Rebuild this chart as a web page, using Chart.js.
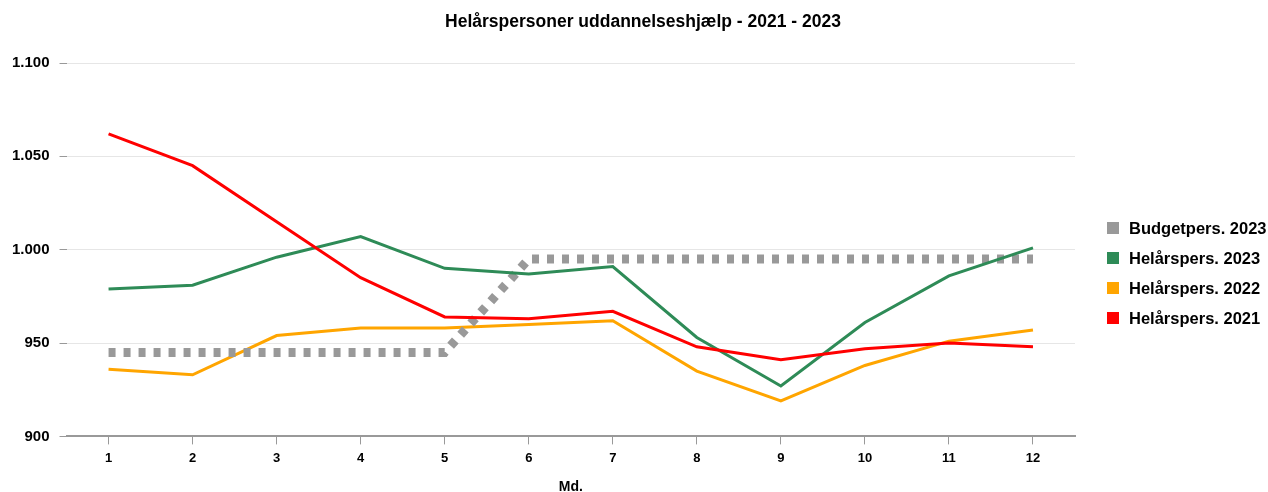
<!DOCTYPE html>
<html>
<head>
<meta charset="utf-8">
<script src="https://cdn.jsdelivr.net/npm/chart.js@4.4.1/dist/chart.umd.min.js"></script>
<style>
html,body{margin:0;padding:0;background:#fff;}
#wrap{width:1268px;height:492px;position:relative;}
</style>
</head>
<body>
<div id="wrap"><canvas id="c"></canvas></div>
<script>
const months = ['1','2','3','4','5','6','7','8','9','10','11','12'];
const budget2023 = [945, 945, 945, 945, 945, 995, 995, 995, 995, 995, 995, 995];
const helaar2023 = [979, 981, 996, 1007, 990, 987, 991, 953, 927, 961, 986, 1001];
const helaar2022 = [936, 933, 954, 958, 958, 960, 962, 935, 919, 938, 951, 957];
const helaar2021 = [1062, 1045, 1015, 985, 964, 963, 967, 948, 941, 947, 950, 948];
const yTicks = [900, 950, 1000, 1050, 1100];
const chartTitle = 'Helårspersoner uddannelseshjælp - 2021 - 2023';
const xTitle = 'Md.';

const FONT = "'Liberation Sans', Arial, sans-serif";
function fmt(v){ return String(v).replace(/\B(?=(\d{3})+(?!\d))/g, '.'); }

const titleLegendPlugin = {
  id: 'titleLegend',
  afterDraw(chart) {
    const ctx = chart.ctx;
    ctx.save();
    ctx.fillStyle = '#000';
    ctx.font = "bold 17.5px " + FONT;
    ctx.textAlign = 'center';
    ctx.textBaseline = 'middle';
    ctx.fillText(chartTitle, 643, 22);
    ctx.font = "bold 16.5px " + FONT;
    ctx.textAlign = 'left';
    chart.data.datasets.forEach((ds, i) => {
      const y = 228 + i * 30;
      ctx.fillStyle = ds.borderColor;
      ctx.fillRect(1107, y - 6, 12, 12);
      ctx.fillStyle = '#000';
      ctx.fillText(ds.label, 1129, y + 1);
    });
    ctx.restore();
  }
};

new Chart(document.getElementById('c'), {
  type: 'line',
  data: {
    labels: months,
    datasets: [
      { label: 'Budgetpers. 2023', data: budget2023, borderColor: '#999999', backgroundColor: '#999999',
        borderWidth: 9, borderDash: [7, 8], borderCapStyle: 'butt', pointRadius: 0, tension: 0, order: 3 },
      { label: 'Helårspers. 2023', data: helaar2023, borderColor: '#2e8b57', backgroundColor: '#2e8b57',
        borderWidth: 3, pointRadius: 0, tension: 0, order: 2 },
      { label: 'Helårspers. 2022', data: helaar2022, borderColor: '#ffa500', backgroundColor: '#ffa500',
        borderWidth: 3, pointRadius: 0, tension: 0, order: 4 },
      { label: 'Helårspers. 2021', data: helaar2021, borderColor: '#ff0000', backgroundColor: '#ff0000',
        borderWidth: 3, pointRadius: 0, tension: 0, order: 1 }
    ]
  },
  plugins: [titleLegendPlugin],
  options: {
    responsive: true,
    maintainAspectRatio: false,
    animation: false,
    devicePixelRatio: 1,
    layout: { padding: { left: 2, right: 193, top: 63, bottom: -2 } },
    plugins: {
      title: { display: false },
      legend: { display: false },
      tooltip: { enabled: false }
    },
    scales: {
      x: {
        offset: true,
        grid: { display: true, drawOnChartArea: false, drawTicks: true, tickLength: 8, color: '#999', offset: false },
        border: { display: true, color: '#999', width: 2 },
        ticks: { color: '#000', font: { family: FONT, size: 13, weight: 'bold' }, padding: 6, maxRotation: 0 },
        title: { display: true, text: xTitle, color: '#000', font: { family: FONT, size: 14, weight: 'bold', lineHeight: 1 }, padding: { top: 8, bottom: 0 } }
      },
      y: {
        min: 900, max: 1100,
        afterBuildTicks(axis) { axis.ticks = yTicks.map(v => ({ value: v })); },
        grid: { color: '#e6e6e6', lineWidth: 1, drawTicks: true, tickLength: 7, tickColor: '#999' },
        border: { display: false },
        ticks: { color: '#000', font: { family: FONT, size: 15, weight: 'bold' }, padding: 10, callback: v => fmt(v) }
      }
    }
  }
});
</script>
</body>
</html>
